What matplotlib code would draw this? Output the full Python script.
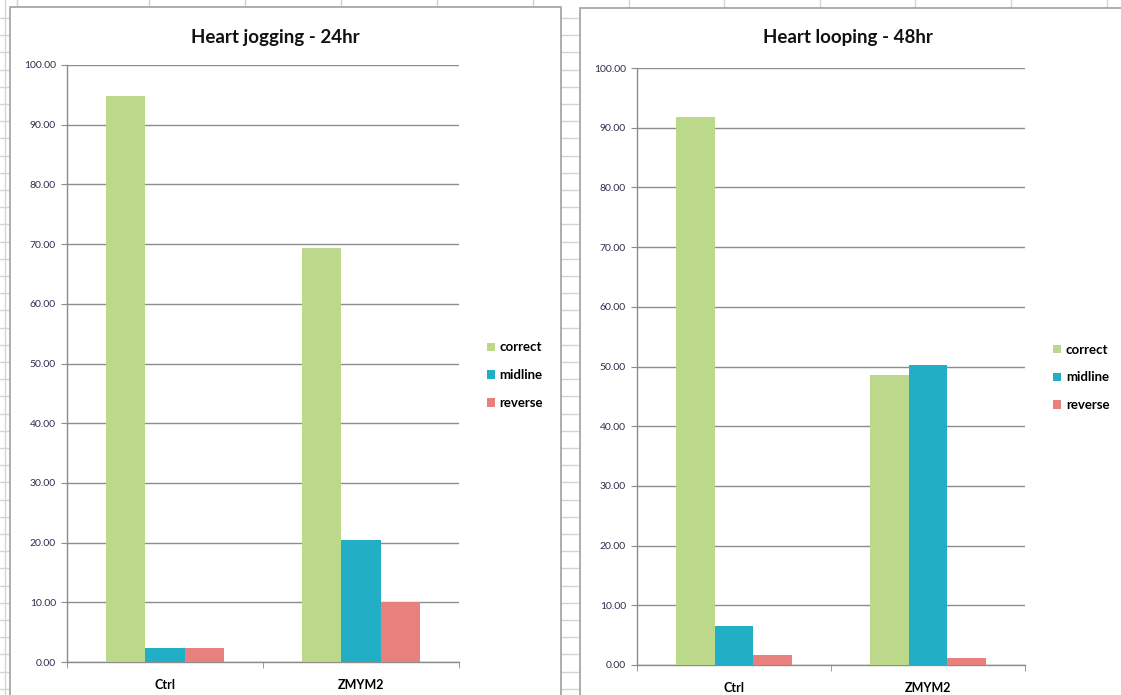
import numpy as np
import matplotlib
matplotlib.use("Agg")
import matplotlib.pyplot as plt
from matplotlib.patches import Rectangle

plt.rcParams['font.family'] = ['Lato', 'DejaVu Sans']

categories = ["Ctrl", "ZMYM2"]
series_names = ["correct", "midline", "reverse"]
colors = ["#bcd88a", "#22aec4", "#e8817d"]

titles = ["Heart jogging - 24hr", "Heart looping - 48hr"]
# values per chart: rows = series, cols = categories
jogging_24 = [[94.8, 69.3],
              [2.4, 20.5],
              [2.4, 10.0]]
looping_48 = [[91.8, 48.5],
              [6.6, 50.2],
              [1.7, 1.1]]
yticks = np.arange(0, 101, 10)

W, H = 1121, 695
fig = plt.figure(figsize=(W / 100, H / 100), dpi=100)

# spreadsheet look behind the charts
bg = fig.add_axes([0, 0, 1, 1])
bg.set_xlim(0, W)
bg.set_ylim(H, 0)
bg.axis("off")
for yy in np.arange(18, H, 17.2):
    bg.plot([0, W], [yy, yy], color="#d4d4d4", lw=1)
for xx in [17, 149, 245, 341, 437, 533, 629, 724, 820, 915, 1011, 1107]:
    bg.plot([xx, xx], [0, H], color="#d4d4d4", lw=1)
bg.plot([5, 5], [0, H], color="#d4d4d4", lw=1)

# chart frames
for (x0, y0) in [(10, 7), (580, 8)]:
    w = 551 if x0 == 10 else 560
    bg.add_patch(Rectangle((x0, y0), w, H, facecolor="white",
                           edgecolor="#a0a0a0", lw=1.2, zorder=3))


def px_axes(x0, y_top, x1, y_bot):
    return fig.add_axes([x0 / W, (H - y_bot) / H, (x1 - x0) / W, (y_bot - y_top) / H])


panels = [
    (px_axes(67, 65, 459, 662), jogging_24, titles[0], (275, 37), (0.424, 0.46)),
    (px_axes(637, 68, 1025, 665), looping_48, titles[1], (848, 37), (0.929, 0.457)),
]

width = 0.2
x = np.arange(len(categories))
for ax, data, title, tpos, lpos in panels:
    handles = []
    for i, name in enumerate(series_names):
        b = ax.bar(x + (i - 1) * width, data[i], width, color=colors[i],
                   label=name, zorder=3)
        handles.append(b)
    ax.set_xlim(-0.5, len(categories) - 0.5)
    ax.set_ylim(0, 100)
    ax.set_yticks(yticks)
    ax.set_yticklabels([f"{v:.2f}" for v in yticks], fontsize=7.5, color="#2e2e50")
    ax.grid(axis="y", color="#8c8c8c", lw=1, zorder=0)
    ax.set_xticks(x)
    ax.set_xticklabels(categories, fontsize=9, fontweight="bold")
    ax.set_xticks(np.arange(-0.5, len(categories), 1), minor=True)
    ax.tick_params(axis="x", which="major", length=0, pad=12)
    ax.tick_params(axis="x", which="minor", length=4, color="#8c8c8c")
    ax.tick_params(axis="y", length=4, color="#8c8c8c", pad=4)
    for s in ["top", "right"]:
        ax.spines[s].set_visible(False)
    for s in ["left", "bottom"]:
        ax.spines[s].set_color("#8c8c8c")
        ax.spines[s].set_linewidth(1)
    ax.set_facecolor("none")
    fig.text(tpos[0] / W, 1 - tpos[1] / H, title, ha="center", va="center",
             fontsize=13.5, fontweight="bold", color="#111111")
    leg = ax.legend(handles=handles, loc="center left", bbox_to_anchor=lpos,
                    bbox_transform=fig.transFigure, frameon=False,
                    handlelength=0.6, handleheight=0.6, handletextpad=0.35,
                    labelspacing=1.2, prop={"size": 9.5, "weight": "bold"})

fig.savefig("out.png", dpi=100)
